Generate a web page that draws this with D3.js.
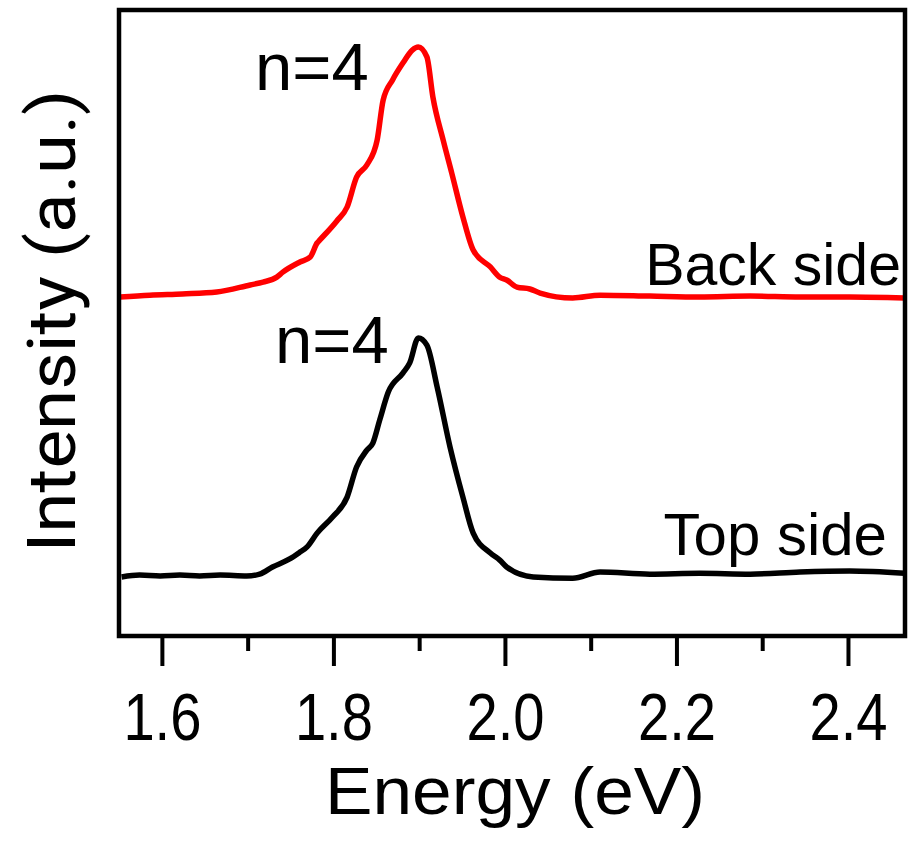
<!DOCTYPE html>
<html>
<head>
<meta charset="utf-8">
<script src="https://cdn.jsdelivr.net/npm/d3@7"></script>
<style>
  html, body { margin: 0; padding: 0; background: #fff; }
  svg { display: block; }
  text { font-family: "Liberation Sans", Arial, sans-serif; fill: #000; }
</style>
</head>
<body>
<svg id="chart" width="909" height="855"></svg>
<script>
// ---- data ----
const backEnergy = [1.551,1.586,1.624,1.664,1.703,1.718,1.734,1.741,1.761,1.773,1.781,1.784,1.804,1.816,1.827,1.839,1.851,1.858,1.869,1.881,1.892,1.899,1.909,1.916,1.928,1.938,1.951,1.963,1.983,1.994,2.002,2.014,2.029,2.041,2.079,2.111,2.169,2.227,2.286,2.344,2.402,2.466];
const backIntensity = [0.000,0.008,0.013,0.021,0.051,0.063,0.084,0.105,0.148,0.169,0.228,0.240,0.321,0.380,0.506,0.557,0.662,0.831,0.916,0.987,1.042,1.055,1.013,0.844,0.662,0.523,0.338,0.198,0.127,0.084,0.072,0.042,0.034,0.017,-0.004,0.008,0.004,0.000,0.004,0.000,0.000,-0.004];
const topEnergy = [1.553,1.574,1.598,1.621,1.644,1.668,1.699,1.714,1.729,1.749,1.761,1.769,1.781,1.799,1.816,1.827,1.839,1.846,1.854,1.864,1.881,1.889,1.899,1.909,1.921,1.936,1.951,1.963,1.983,1.994,2.002,2.033,2.079,2.111,2.169,2.227,2.286,2.344,2.402,2.466];
const topIntensity = [-0.008,0.000,-0.004,0.000,-0.004,0.000,-0.004,0.004,0.034,0.068,0.097,0.118,0.177,0.245,0.329,0.456,0.527,0.557,0.654,0.772,0.852,0.895,1.000,0.970,0.793,0.540,0.329,0.177,0.093,0.063,0.034,-0.008,-0.013,0.013,0.004,0.008,0.004,0.013,0.017,0.008];
const seriesNames = ["Back side", "Top side"];
const seriesOffsets = [1.173, 0];
const peakLabels = ["n=4", "n=4"];
const majorTicks = [1.6, 1.8, 2.0, 2.2, 2.4];
const minorTicks = [1.7, 1.9, 2.1, 2.3];
const xTitle = "Energy (eV)";
const yTitle = "Intensity (a.u.)";

// ---- layout ----
const L = 119, R = 905, T = 10, B = 636;
const svg = d3.select("#chart");
const x = d3.scaleLinear().domain([1.55, 2.4665]).range([L, R]);
const y = d3.scaleLinear().domain([-0.257, 2.384]).range([B, T]);

svg.append("defs").append("clipPath").attr("id", "plotclip")
  .append("rect").attr("x", L).attr("y", T).attr("width", R - L).attr("height", B - T);

// curves
const series = [
  { e: backEnergy, v: backIntensity, off: seriesOffsets[0], color: "#ff0000" },
  { e: topEnergy, v: topIntensity, off: seriesOffsets[1], color: "#000000" }
];
const line = d3.line().x(d => x(d[0])).y(d => y(d[1])).curve(d3.curveMonotoneX);
series.forEach(s => {
  const pts = s.e.map((e, i) => [e, s.v[i] + s.off]);
  svg.append("path").attr("d", line(pts))
    .attr("fill", "none").attr("stroke", s.color)
    .attr("stroke-width", 5.5).attr("stroke-linejoin", "round")
    .attr("clip-path", "url(#plotclip)");
});

// x axis (bottom) major and minor ticks
const axMajor = d3.axisBottom(x).tickValues(majorTicks).tickSize(30).tickFormat(d3.format(".1f")).tickPadding(26);
const gx = svg.append("g").attr("transform", `translate(0,${B})`).call(axMajor);
gx.select(".domain").remove();
gx.selectAll(".tick line").attr("stroke", "#000").attr("stroke-width", 4);
gx.selectAll(".tick text")
  .style("font-family", "'Liberation Sans', Arial, sans-serif")
  .attr("font-size", 66).attr("dy", "0.72em")
  .attr("textLength", 78).attr("lengthAdjust", "spacingAndGlyphs");
const axMinor = d3.axisBottom(x).tickValues(minorTicks).tickSize(15).tickFormat("");
const gm = svg.append("g").attr("transform", `translate(0,${B})`).call(axMinor);
gm.select(".domain").remove();
gm.selectAll(".tick line").attr("stroke", "#000").attr("stroke-width", 4);

// frame
svg.append("rect").attr("x", L).attr("y", T).attr("width", R - L).attr("height", B - T)
  .attr("fill", "none").attr("stroke", "#000").attr("stroke-width", 4.5);

// annotations
svg.append("text").attr("x", 255).attr("y", 90).attr("font-size", 67).text(peakLabels[0]);
svg.append("text").attr("x", 275).attr("y", 363).attr("font-size", 67).text(peakLabels[1]);
svg.append("text").attr("x", 901).attr("y", 285).attr("font-size", 59)
  .attr("text-anchor", "end").text(seriesNames[0]);
svg.append("text").attr("x", 887).attr("y", 555).attr("font-size", 60)
  .attr("text-anchor", "end").text(seriesNames[1]);

// axis titles
svg.append("text").attr("x", 515).attr("y", 814).attr("font-size", 66)
  .attr("text-anchor", "middle").attr("textLength", 380).attr("lengthAdjust", "spacingAndGlyphs")
  .text(xTitle);
svg.append("text").attr("transform", "translate(75,321) rotate(-90)")
  .attr("font-size", 66).attr("text-anchor", "middle")
  .attr("textLength", 463).attr("lengthAdjust", "spacingAndGlyphs")
  .style("font-family", "Roboto, 'Liberation Sans', sans-serif")
  .text(yTitle);
</script>
</body>
</html>
